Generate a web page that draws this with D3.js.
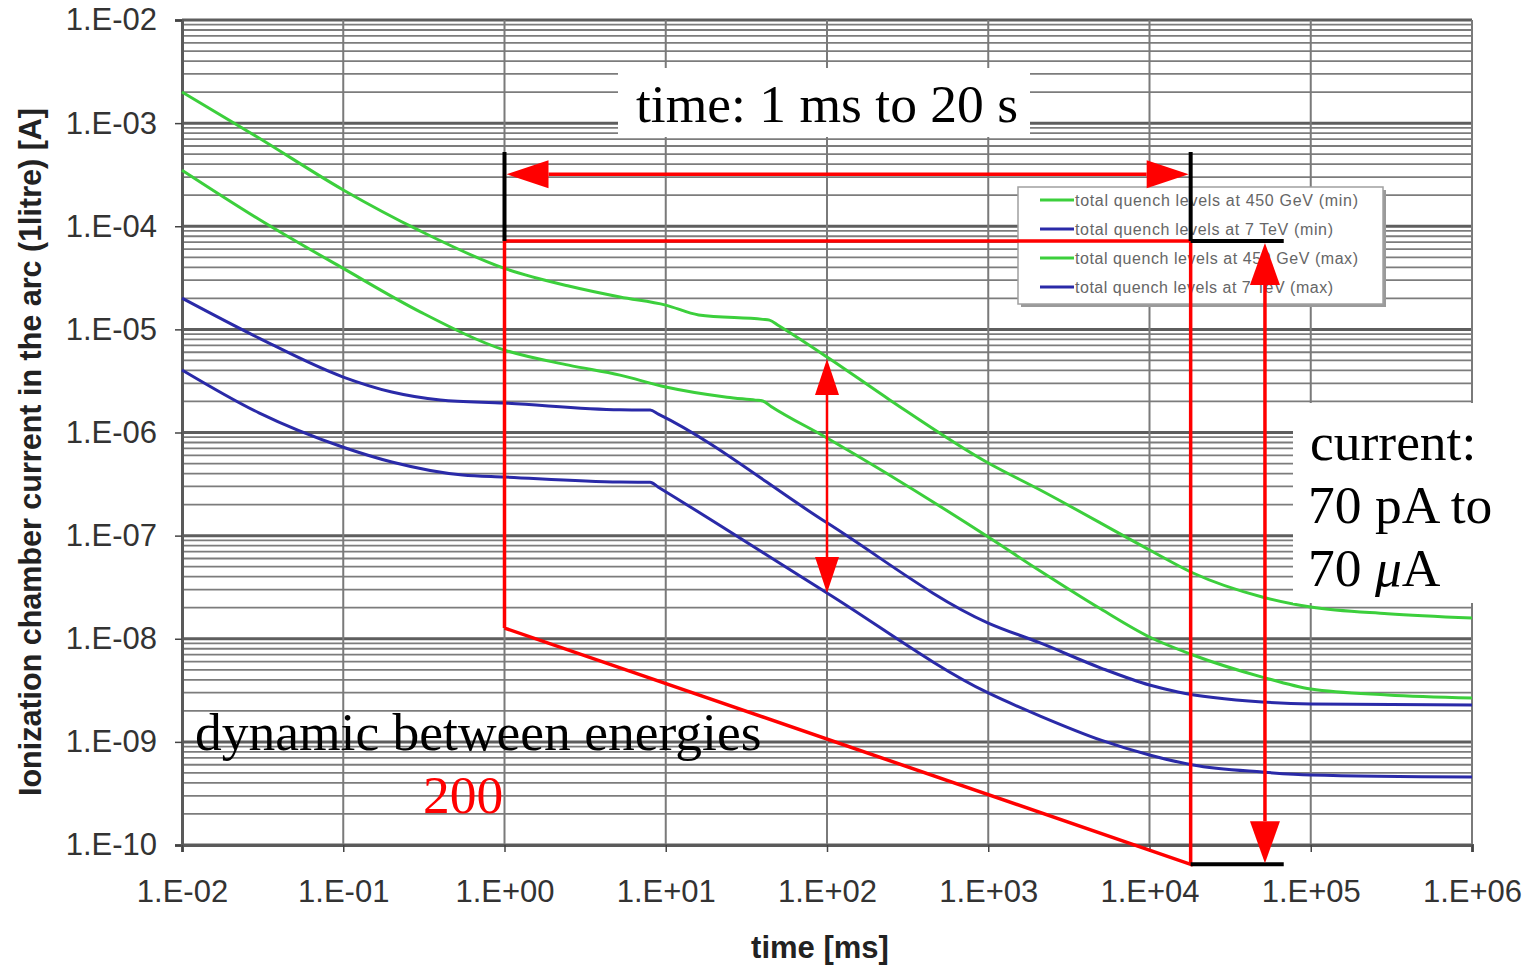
<!DOCTYPE html>
<html>
<head>
<meta charset="utf-8">
<script src="https://cdn.jsdelivr.net/npm/d3@7"></script>
<style>
  body { margin: 0; background: #fff; }
  svg { display: block; }
</style>
</head>
<body>
<svg id="chart" width="1526" height="965"></svg>
<script>
// axis ranges / ticks
const timeTicks = [1e-2, 1e-1, 1e0, 1e1, 1e2, 1e3, 1e4, 1e5, 1e6];
const currentTicks = [1e-10, 1e-9, 1e-8, 1e-7, 1e-6, 1e-5, 1e-4, 1e-3, 1e-2];

// series: time [ms] / current [A]
const tGreenHi = [0.01, 0.03, 0.1, 0.3, 1, 2.5, 5.2, 10, 16, 40, 44, 50, 100, 245, 1000, 2100, 10000, 18600, 50000, 1e5, 3e5, 1e6];
const iGreenHi = [2.0e-3, 7.18e-4, 2.25e-4, 9.0e-5, 3.9e-5, 2.63e-5, 2.06e-5, 1.72e-5, 1.38e-5, 1.25e-5, 1.23e-5, 1.09e-5, 5.4e-6, 2.07e-6, 5.06e-7, 2.77e-7, 7.26e-8, 4.34e-8, 2.54e-8, 2.03e-8, 1.75e-8, 1.59e-8];

const tGreenLo = [0.01, 0.03, 0.1, 0.3, 1, 2.5, 5.2, 10, 24, 36, 40, 45, 100, 1000, 2100, 5000, 10000, 18600, 50000, 1e5, 3e5, 1e6];
const iGreenLo = [3.5e-4, 1.17e-4, 3.9e-5, 1.48e-5, 6.3e-6, 4.5e-6, 3.6e-6, 2.76e-6, 2.2e-6, 2.06e-6, 2.02e-6, 1.79e-6, 8.85e-7, 9.7e-8, 4.54e-8, 1.94e-8, 1.04e-8, 6.96e-9, 4.25e-9, 3.25e-9, 2.85e-9, 2.66e-9];

const tBlueHi = [0.01, 0.03, 0.1, 0.2, 0.4, 1, 5.2, 7, 8, 9, 100, 1000, 2100, 5000, 10000, 15000, 50000, 1e5, 1e6];
const iBlueHi = [2.01e-5, 8.24e-6, 3.45e-6, 2.47e-6, 2.07e-6, 1.93e-6, 1.66e-6, 1.65e-6, 1.65e-6, 1.51e-6, 1.33e-7, 1.42e-8, 9.1e-9, 5.2e-9, 3.56e-9, 3.05e-9, 2.44e-9, 2.33e-9, 2.28e-9];

const tBlueLo = [0.01, 0.03, 0.1, 0.2, 0.55, 1, 5.2, 7, 8, 9, 100, 1000, 2100, 5000, 10000, 18600, 50000, 1e5, 1e6];
const iBlueLo = [4.04e-6, 1.55e-6, 7.2e-7, 5.18e-7, 3.87e-7, 3.7e-7, 3.31e-7, 3.3e-7, 3.3e-7, 2.95e-7, 2.78e-8, 2.98e-9, 1.78e-9, 1.04e-9, 7.46e-10, 5.97e-10, 5.1e-10, 4.77e-10, 4.56e-10];

const legendLabels = [
  "total quench levels at 450 GeV (min)",
  "total quench levels at 7 TeV (min)",
  "total quench levels at 450 GeV (max)",
  "total quench levels at 7 TeV (max)"
];
const legendColors = ["#3ccf3c", "#2a2aa8", "#3ccf3c", "#2a2aa8"];

// annotation values (time in ms, current in A)
const spanTimes = [1, 1.8e4];           // 1 ms .. 20 s
const spanCurrents = [7.2e-5, 6.5e-11];  // 70 uA .. 70 pA
const bracketTop = 5.25e-4;
const bracketEnd = 6.8e4;
const timeArrowCurrent = 3.2e-4;
const currentArrowTime = 5.2e4;
const dynLeftCurrent = 1.27e-8;
const energyArrowTime = 100;
const energyArrowCurrents = [5.4e-6, 2.78e-8];

const svg = d3.select("#chart");
const x = d3.scaleLog().domain([1e-2, 1e6]).range([182, 1472]);
const y = d3.scaleLog().domain([1e-10, 1e-2]).range([845, 20]);

const fmt = v => {
  const e = Math.round(Math.log10(v));
  return "1.E" + (e < 0 ? "-" : "+") + String(Math.abs(e)).padStart(2, "0");
};

// grid
const grid = svg.append("g");
const allY = y.ticks();
grid.selectAll("line.h")
  .data(allY)
  .join("line")
    .attr("x1", 182).attr("x2", 1472)
    .attr("y1", d => y(d)).attr("y2", d => y(d))
    .attr("stroke", d => currentTicks.includes(d) ? "#5e5e5e" : "#7c7c7c")
    .attr("stroke-width", d => currentTicks.includes(d) ? 3 : 1.8);
grid.selectAll("line.v")
  .data(timeTicks)
  .join("line")
    .attr("x1", d => x(d)).attr("x2", d => x(d))
    .attr("y1", 20).attr("y2", 845)
    .attr("stroke", "#7a7a7a")
    .attr("stroke-width", 2);

// axes
const yAxis = svg.append("g")
  .attr("transform", "translate(182,0)")
  .call(d3.axisLeft(y).tickValues(currentTicks).tickFormat(fmt).tickSize(7).tickPadding(18));
const xAxis = svg.append("g")
  .attr("transform", "translate(0,845)")
  .call(d3.axisBottom(x).tickValues(timeTicks).tickFormat(fmt).tickSize(7).tickPadding(28));
[yAxis, xAxis].forEach(a => {
  a.select(".domain").attr("stroke", "#5a5a5a").attr("stroke-width", 3);
  a.selectAll(".tick line").attr("stroke", "#444").attr("stroke-width", 1.5);
  a.selectAll("text")
    .attr("font-family", "'Liberation Sans', Arial, sans-serif")
    .attr("font-size", 31)
    .attr("fill", "#333");
});

svg.append("text")
  .attr("transform", "translate(41,452) rotate(-90)")
  .attr("text-anchor", "middle")
  .attr("font-family", "'Liberation Sans', Arial, sans-serif")
  .attr("font-weight", "bold")
  .attr("font-size", 30.5)
  .attr("fill", "#222")
  .text("Ionization chamber current in the arc (1litre) [A]");
svg.append("text")
  .attr("x", 820).attr("y", 958)
  .attr("text-anchor", "middle")
  .attr("font-family", "'Liberation Sans', Arial, sans-serif")
  .attr("font-weight", "bold")
  .attr("font-size", 31)
  .attr("fill", "#222")
  .text("time [ms]");

// curves
const line = d3.line()
  .x(d => x(d[0]))
  .y(d => y(d[1]))
  .curve(d3.curveMonotoneX);
const series = [
  {t: tGreenHi, i: iGreenHi, c: legendColors[0]},
  {t: tGreenLo, i: iGreenLo, c: legendColors[2]},
  {t: tBlueHi, i: iBlueHi, c: legendColors[1]},
  {t: tBlueLo, i: iBlueLo, c: legendColors[3]}
];
svg.append("g")
  .selectAll("path")
  .data(series)
  .join("path")
    .attr("d", s => line(d3.zip(s.t, s.i)))
    .attr("fill", "none")
    .attr("stroke", s => s.c)
    .attr("stroke-width", 3)
    .attr("stroke-linejoin", "round");

// legend
const lg = svg.append("g").attr("transform", "translate(1018,187)");
lg.append("rect").attr("x", 3).attr("y", 3).attr("width", 365).attr("height", 117).attr("fill", "#9a9a9a");
lg.append("rect").attr("width", 365).attr("height", 117).attr("fill", "#fff").attr("stroke", "#a0a0a0").attr("stroke-width", 1.5);
const rows = lg.selectAll("g.row")
  .data(legendLabels)
  .join("g")
    .attr("transform", (d, k) => `translate(0,${13 + k * 29})`);
rows.append("line")
  .attr("x1", 22).attr("x2", 56)
  .attr("stroke", (d, k) => legendColors[k])
  .attr("stroke-width", 3);
rows.append("text")
  .attr("x", 57).attr("dy", "0.35em")
  .attr("font-family", "'Liberation Sans', Arial, sans-serif")
  .attr("font-size", 16)
  .attr("textLength", (d, k) => k % 2 ? 258 : 283)
  .attr("fill", "#666")
  .text(d => d);

// annotations
const ann = svg.append("g");
const RED = "#ff0000";

function arrowHead(g, tip, base, half, color) {
  const dx = tip[0] - base[0], dy = tip[1] - base[1];
  const len = Math.hypot(dx, dy);
  const nx = -dy / len * half, ny = dx / len * half;
  g.append("polygon")
    .attr("points", [tip, [base[0] + nx, base[1] + ny], [base[0] - nx, base[1] - ny]].map(p => p.join(",")).join(" "))
    .attr("fill", color);
}
function doubleArrow(g, p1, p2, headLen, half, width, color) {
  const dx = p2[0] - p1[0], dy = p2[1] - p1[1];
  const len = Math.hypot(dx, dy);
  const ux = dx / len, uy = dy / len;
  const b1 = [p1[0] + ux * headLen, p1[1] + uy * headLen];
  const b2 = [p2[0] - ux * headLen, p2[1] - uy * headLen];
  g.append("line")
    .attr("x1", b1[0]).attr("y1", b1[1]).attr("x2", b2[0]).attr("y2", b2[1])
    .attr("stroke", color).attr("stroke-width", width);
  arrowHead(g, p1, b1, half, color);
  arrowHead(g, p2, b2, half, color);
}

// red frame: top edge, left side, diagonal, right side
const frame = [
  [spanTimes[0], dynLeftCurrent],
  [spanTimes[0], spanCurrents[0]],
  [spanTimes[1], spanCurrents[0]],
  [spanTimes[1], spanCurrents[1]],
  [spanTimes[0], dynLeftCurrent]
];
ann.append("path")
  .attr("d", d3.line().x(d => x(d[0])).y(d => y(d[1]))(frame))
  .attr("fill", "none")
  .attr("stroke", RED)
  .attr("stroke-width", 3.5);

// black brackets
const blackSegs = [
  [[spanTimes[0], bracketTop], [spanTimes[0], spanCurrents[0]]],
  [[spanTimes[1], bracketTop], [spanTimes[1], spanCurrents[0]]],
  [[spanTimes[1], spanCurrents[0]], [bracketEnd, spanCurrents[0]]],
  [[spanTimes[1], spanCurrents[1]], [bracketEnd, spanCurrents[1]]]
];
ann.selectAll("line.blk")
  .data(blackSegs)
  .join("line")
    .attr("x1", d => x(d[0][0])).attr("y1", d => y(d[0][1]))
    .attr("x2", d => x(d[1][0])).attr("y2", d => y(d[1][1]))
    .attr("stroke", "#000")
    .attr("stroke-width", 4);

doubleArrow(ann,
  [x(spanTimes[0]) + 2, y(timeArrowCurrent)],
  [x(spanTimes[1]) - 2, y(timeArrowCurrent)], 42, 14, 3.5, RED);
doubleArrow(ann,
  [x(currentArrowTime), y(spanCurrents[0]) + 2],
  [x(currentArrowTime), y(spanCurrents[1]) - 1], 42, 15, 3.5, RED);
doubleArrow(ann,
  [x(energyArrowTime), y(energyArrowCurrents[0]) + 2],
  [x(energyArrowTime), y(energyArrowCurrents[1])], 36, 12, 2.5, RED);

// text boxes
const serif = "'Liberation Serif', 'Times New Roman', serif";
ann.append("rect").attr("x", 618).attr("y", 68).attr("width", 412).attr("height", 69).attr("fill", "#fff");
ann.append("text")
  .attr("x", 636).attr("y", 122)
  .attr("font-family", serif).attr("font-size", 53.5).attr("fill", "#000")
  .text("time: 1 ms to 20 s");

ann.append("rect").attr("x", 1293).attr("y", 403).attr("width", 233).attr("height", 200).attr("fill", "#fff");
const cur = ann.append("text")
  .attr("font-family", serif).attr("font-size", 53.5).attr("fill", "#000");
cur.append("tspan").attr("x", 1310).attr("y", 460).text("current:");
cur.append("tspan").attr("x", 1308).attr("y", 523).text("70 pA to");
const l3 = cur.append("tspan").attr("x", 1308).attr("y", 586);
l3.text("70 ");
l3.append("tspan").attr("font-style", "italic").text("μ");
l3.append("tspan").text("A");

ann.append("text")
  .attr("x", 195).attr("y", 750)
  .attr("font-family", serif).attr("font-size", 53.5).attr("fill", "#000")
  .text("dynamic between energies");
ann.append("text")
  .attr("x", 423).attr("y", 813)
  .attr("font-family", serif).attr("font-size", 53.5).attr("fill", RED)
  .text("200");
</script>
</body>
</html>
